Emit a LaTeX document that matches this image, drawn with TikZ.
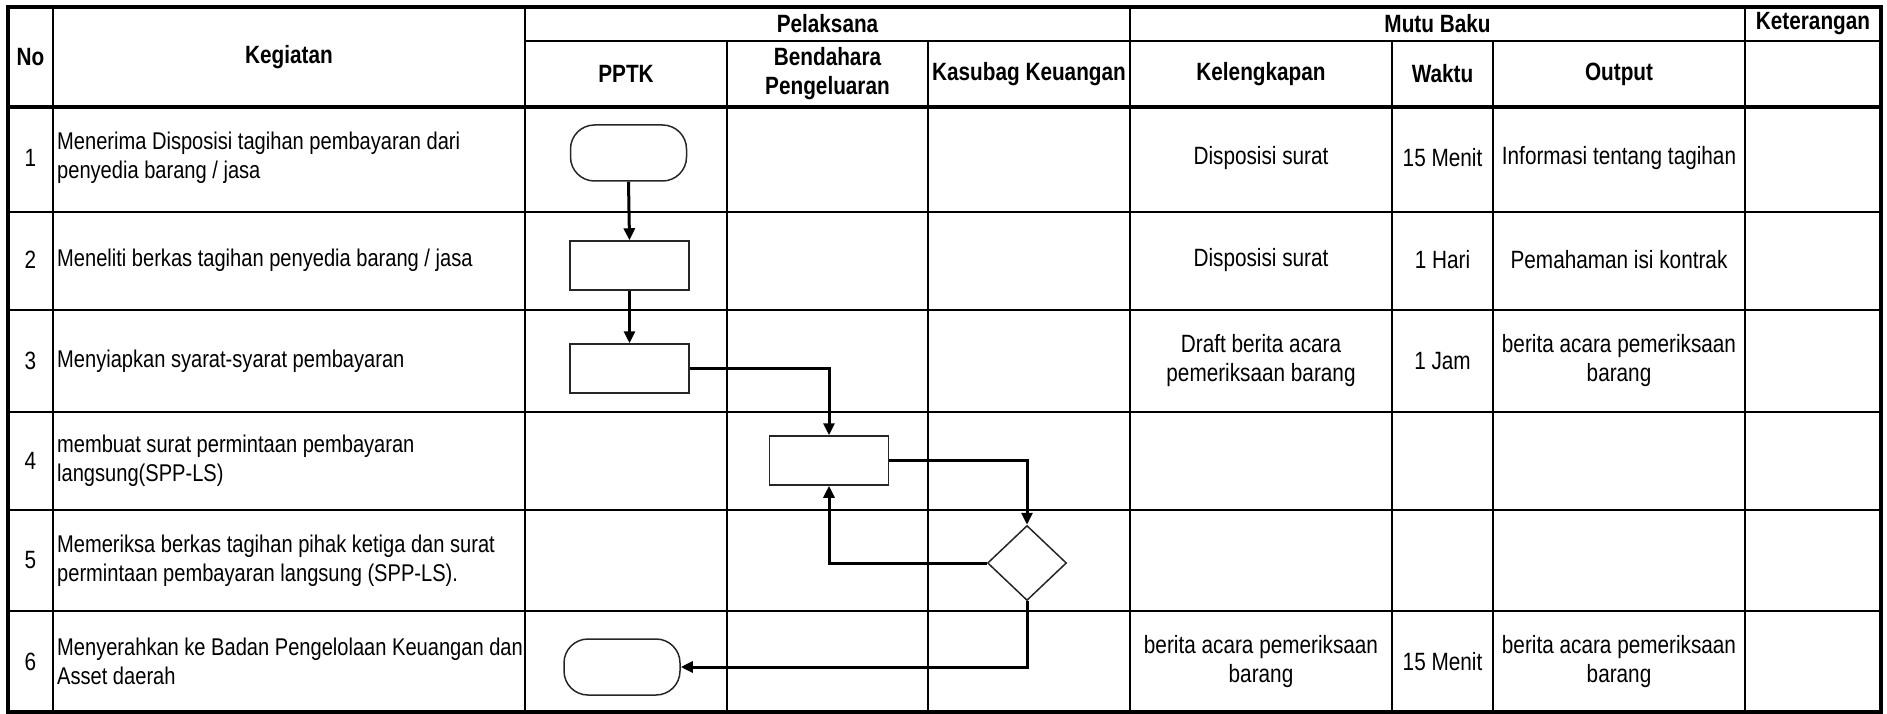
\documentclass[tikz,border=0pt]{standalone}
\usepackage{fontspec}
\setmainfont[FakeStretch=0.83]{Liberation Sans}
\usetikzlibrary{shapes.geometric,arrows.meta}
\begin{document}
\begin{tikzpicture}[x=1pt,y=-1pt,
  grid/.style={line width=2pt},
  thickgrid/.style={line width=3.5pt},
  procbox/.style={draw=black!85,line width=1.5pt,minimum width=119pt,minimum height=49pt,inner sep=0pt},
  term/.style={draw=black!85,line width=1.5pt,rounded corners=24pt,minimum width=116pt,minimum height=56pt,inner sep=0pt},
  decision/.style={draw=black!85,line width=1.5pt,diamond,minimum width=79pt,minimum height=75pt,inner sep=0pt},
  flow/.style={line width=3pt,-{Triangle[length=12pt,width=11pt]}},
  hdr/.style={font=\fontsize{25}{29}\selectfont\bfseries,align=center,inner sep=0pt},
  txt/.style={font=\fontsize{25}{29}\selectfont,align=center,inner sep=0pt},
  ltxt/.style={font=\fontsize{24.2}{29}\selectfont,align=left,anchor=west,inner sep=0pt},
]
\useasboundingbox (0,0) rectangle (1887,714);
% grid
\draw[grid] (525,41) -- (1881,41);
\foreach \y in {212,310,412,510,611} \draw[grid] (8,\y) -- (1881,\y);
\draw[thickgrid] (8,107) -- (1881,107);
\foreach \x in {53,525,1130,1745} \draw[grid] (\x,7) -- (\x,712);
\foreach \x in {727,928,1392,1493} \draw[grid] (\x,41) -- (\x,712);
\draw[thickgrid] (8,7) rectangle (1881,712);
% header
\node[hdr] (hno) at (30.5,57) {No};
\node[hdr] (hkeg) at (289,57) {Kegiatan};
\node[hdr] (hpel) at (827.5,24) {Pelaksana};
\node[hdr] (hmutu) at (1437.5,24) {Mutu Baku};
\node[hdr] (hket) at (1813,24) {Keterangan};
\node[hdr] (hpptk) at (626,74) {PPTK};
\node[hdr] (hbend) at (827.5,74) {Bendahara\\Pengeluaran};
\node[hdr] (hkas) at (1029,74) {Kasubag Keuangan};
\node[hdr] (hkel) at (1261,74) {Kelengkapan};
\node[hdr] (hwak) at (1442.5,74) {Waktu};
\node[hdr] (hout) at (1619,74) {Output};
% numbers
\node[txt] (n1) at (30.5,158) {1};
\node[txt] (n2) at (30.5,260) {2};
\node[txt] (n3) at (30.5,361) {3};
\node[txt] (n4) at (30.5,461) {4};
\node[txt] (n5) at (30.5,560.5) {5};
\node[txt] (n6) at (30.5,661.5) {6};
% kegiatan
\node[ltxt] (k1) at (57,158) {Menerima Disposisi tagihan pembayaran dari\\penyedia barang / jasa};
\node[ltxt] (k2) at (57,260) {Meneliti berkas tagihan penyedia barang / jasa};
\node[ltxt] (k3) at (57,361) {Menyiapkan syarat-syarat pembayaran};
\node[ltxt] (k4) at (57,461) {membuat surat permintaan pembayaran\\langsung(SPP-LS)};
\node[ltxt] (k5) at (57,560.5) {Memeriksa berkas tagihan pihak ketiga dan surat\\permintaan pembayaran langsung (SPP-LS).};
\node[ltxt] (k6) at (57,661.5) {Menyerahkan ke Badan Pengelolaan Keuangan dan\\Asset daerah};
% mutu baku
\node[txt] (kl1) at (1261,158) {Disposisi surat};
\node[txt] (w1) at (1442.5,158) {15 Menit};
\node[txt] (o1) at (1619,158) {Informasi tentang tagihan};
\node[txt] (kl2) at (1261,260) {Disposisi surat};
\node[txt] (w2) at (1442.5,260) {1 Hari};
\node[txt] (o2) at (1619,260) {Pemahaman isi kontrak};
\node[txt] (kl3) at (1261,361) {Draft berita acara\\pemeriksaan barang};
\node[txt] (w3) at (1442.5,361) {1 Jam};
\node[txt] (o3) at (1619,361) {berita acara pemeriksaan\\barang};
\node[txt] (kl6) at (1261,661.5) {berita acara pemeriksaan\\barang};
\node[txt] (w6) at (1442.5,661.5) {15 Menit};
\node[txt] (o6) at (1619,661.5) {berita acara pemeriksaan\\barang};
% flow shapes
\node[term] (T1) at (628.5,153) {};
\node[procbox] (B2) at (629.5,265.5) {};
\node[procbox] (B3) at (629.5,368.5) {};
\node[procbox] (B4) at (829,460.5) {};
\node[decision] (D5) at (1027,563) {};
\node[term] (T6) at (622,667) {};
% connectors
\draw[flow] (T1.south) -- (B2.north);
\draw[flow] (B2.south) -- (B3.north);
\draw[flow] (B3.east) -| (B4.north);
\draw[flow] (B4.east) -| (D5.north);
\draw[flow] (D5.west) -| (B4.south);
\draw[flow] (D5.south) |- (T6.east);
\end{tikzpicture}
\end{document}
